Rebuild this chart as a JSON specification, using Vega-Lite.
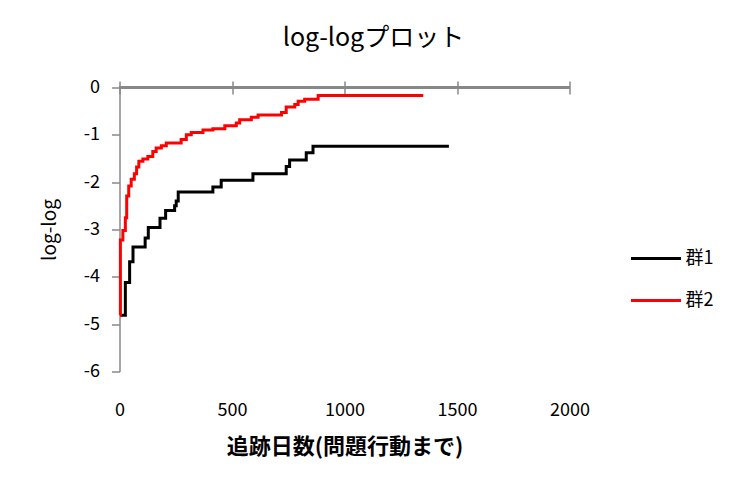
{
  "$schema": "https://vega.github.io/schema/vega-lite/v6.json",
  "width": 450,
  "height": 284,
  "autosize": {"type": "none"},
  "padding": {"left": 119.5, "top": 87.5, "right": 171.5, "bottom": 126.5},
  "background": "white",
  "title": {
    "text": "log-logプロット",
    "anchor": "middle",
    "fontSize": 25,
    "font": "Noto Sans CJK JP",
    "fontWeight": "normal",
    "color": "#000000",
    "dx": 29,
    "offset": 28
  },
  "config": {
    "view": {"stroke": null},
    "font": "Noto Sans CJK JP",
    "axis": {"grid": false, "domainColor": "#888888", "tickColor": "#888888", "labelColor": "#000000", "titleColor": "#000000"}
  },
  "data": {
    "values": [
      {"x": 4, "y": -4.81, "group": "群1"},
      {"x": 26, "y": -4.12, "group": "群1"},
      {"x": 45, "y": -3.68, "group": "群1"},
      {"x": 60, "y": -3.37, "group": "群1"},
      {"x": 114, "y": -3.18, "group": "群1"},
      {"x": 128, "y": -2.96, "group": "群1"},
      {"x": 180, "y": -2.76, "group": "群1"},
      {"x": 205, "y": -2.60, "group": "群1"},
      {"x": 245, "y": -2.50, "group": "群1"},
      {"x": 252, "y": -2.40, "group": "群1"},
      {"x": 261, "y": -2.21, "group": "群1"},
      {"x": 415, "y": -2.10, "group": "群1"},
      {"x": 452, "y": -1.96, "group": "群1"},
      {"x": 593, "y": -1.82, "group": "群1"},
      {"x": 741, "y": -1.67, "group": "群1"},
      {"x": 756, "y": -1.53, "group": "群1"},
      {"x": 830, "y": -1.38, "group": "群1"},
      {"x": 860, "y": -1.24, "group": "群1"},
      {"x": 1464, "y": -1.24, "group": "群1"},
      {"x": 2, "y": -4.81, "group": "群2"},
      {"x": 4, "y": -3.22, "group": "群2"},
      {"x": 15, "y": -3.02, "group": "群2"},
      {"x": 26, "y": -2.75, "group": "群2"},
      {"x": 32, "y": -2.29, "group": "群2"},
      {"x": 41, "y": -2.08, "group": "群2"},
      {"x": 52, "y": -1.94, "group": "群2"},
      {"x": 66, "y": -1.82, "group": "群2"},
      {"x": 76, "y": -1.68, "group": "群2"},
      {"x": 86, "y": -1.56, "group": "群2"},
      {"x": 104, "y": -1.51, "group": "群2"},
      {"x": 126, "y": -1.46, "group": "群2"},
      {"x": 148, "y": -1.35, "group": "群2"},
      {"x": 163, "y": -1.28, "group": "群2"},
      {"x": 186, "y": -1.23, "group": "群2"},
      {"x": 208, "y": -1.17, "group": "群2"},
      {"x": 274, "y": -1.10, "group": "群2"},
      {"x": 297, "y": -1.00, "group": "群2"},
      {"x": 319, "y": -0.95, "group": "群2"},
      {"x": 371, "y": -0.90, "group": "群2"},
      {"x": 415, "y": -0.87, "group": "群2"},
      {"x": 468, "y": -0.81, "group": "群2"},
      {"x": 519, "y": -0.75, "group": "群2"},
      {"x": 534, "y": -0.68, "group": "群2"},
      {"x": 586, "y": -0.63, "group": "群2"},
      {"x": 616, "y": -0.58, "group": "群2"},
      {"x": 720, "y": -0.53, "group": "群2"},
      {"x": 741, "y": -0.41, "group": "群2"},
      {"x": 779, "y": -0.36, "group": "群2"},
      {"x": 794, "y": -0.29, "group": "群2"},
      {"x": 823, "y": -0.25, "group": "群2"},
      {"x": 883, "y": -0.17, "group": "群2"},
      {"x": 1350, "y": -0.17, "group": "群2"}
    ]
  },
  "layer": [
    {
      "mark": {"type": "line", "interpolate": "step-after", "strokeWidth": 3},
      "encoding": {
        "x": {
          "field": "x", "type": "quantitative",
          "scale": {"domain": [0, 2000], "nice": false},
          "axis": {
            "orient": "bottom", "values": [0, 500, 1000, 1500, 2000],
            "labelExpr": "'' + datum.value",
            "domain": false, "ticks": false, "tickSize": 0,
            "labelFontSize": 18, "labelPadding": 30, "labelFlush": false, "labelOverlap": false,
            "title": "追跡日数(問題行動まで)", "titleFontSize": 22, "titleFontWeight": "bold", "titlePadding": 17
          }
        },
        "y": {
          "field": "y", "type": "quantitative",
          "scale": {"domain": [-6, 0], "nice": false},
          "axis": {
            "values": [-6, -5, -4, -3, -2, -1, 0],
            "labelExpr": "'' + datum.value",
            "domainWidth": 1.5, "tickSize": 8, "tickWidth": 1.5,
            "labelFontSize": 18, "labelPadding": 12, "labelFlush": false, "labelOverlap": false,
            "title": "log-log", "titleFontSize": 19, "titleFontWeight": "normal", "titlePadding": 24
          }
        },
        "color": {
          "field": "group", "type": "nominal",
          "scale": {"domain": ["群1", "群2"], "range": ["#000000", "#ff0000"]},
          "legend": {
            "orient": "none", "legendX": 510, "legendY": 161, "padding": 0,
            "title": null, "symbolType": "stroke", "symbolSize": 2500, "symbolStrokeWidth": 3,
            "clipHeight": 20, "rowPadding": 22, "labelFontSize": 18, "labelOffset": 3
          }
        }
      }
    },
    {
      "mark": {"type": "rule", "color": "#888888", "strokeWidth": 1.5},
      "encoding": {
        "x": {
          "datum": 0, "type": "quantitative",
          "axis": {
            "orient": "top", "values": [0, 500, 1000, 1500, 2000],
            "domain": false, "labels": false, "tickSize": 13, "tickWidth": 1.5, "offset": -6.5, "title": null
          }
        },
        "x2": {"datum": 2000},
        "y": {"datum": 0, "type": "quantitative", "title": "log-log"}
      }
    }
  ],
  "resolve": {"axis": {"x": "independent"}}
}
